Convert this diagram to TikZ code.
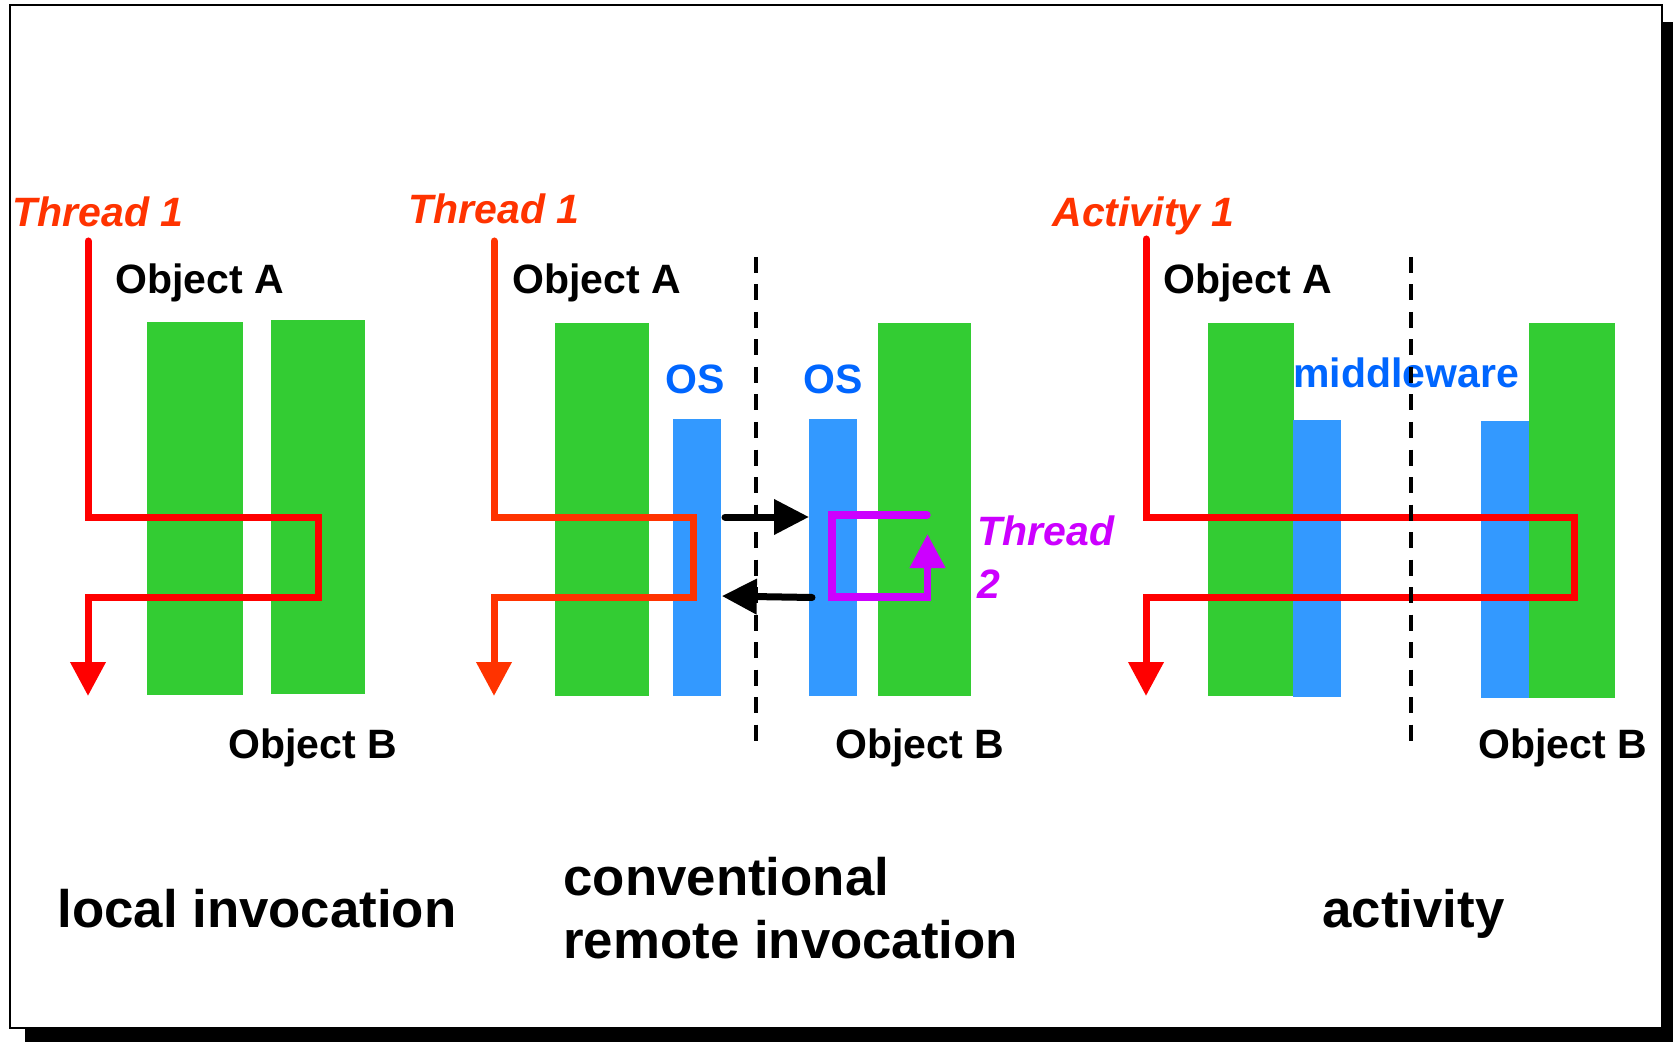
\documentclass[tikz,border=0pt]{standalone}
\usepackage{fontspec}
\setmainfont{Liberation Sans}
\usepackage{xcolor}
\usepackage{tikz}
\usetikzlibrary{arrows.meta,positioning}

\definecolor{objgreen}{RGB}{51,204,51}
\definecolor{osblue}{RGB}{51,153,255}
\definecolor{labelblue}{RGB}{0,102,255}
\definecolor{threadred}{RGB}{255,0,0}
\definecolor{threadorange}{RGB}{255,51,0}
\definecolor{threadpurple}{RGB}{204,0,255}

\begin{document}
\begin{tikzpicture}[
    x=0.5pt, y=-0.5pt,
    objbox/.style={rectangle, fill=objgreen, inner sep=0pt, anchor=north west},
    osbox/.style={rectangle, fill=osblue, inner sep=0pt, anchor=north west, minimum width=24pt, minimum height=138.5pt},
    lbl/.style={inner sep=0pt, anchor=base west, font=\fontsize{20.5}{24}\selectfont\bfseries},
    threadlbl/.style={lbl, font=\fontsize{20.5}{26.5}\selectfont\bfseries\itshape, text=threadorange},
    oslbl/.style={lbl, text=labelblue},
    caption/.style={lbl, font=\fontsize{26.4}{31.5}\selectfont\bfseries, align=left},
    threadline/.style={line width=3.5pt, line cap=round, -{Triangle[length=17pt, width=17pt]}},
    msgarrow/.style={line width=3.5pt, line cap=round, -{Triangle[length=17.5pt, width=17pt]}},
    divider/.style={line width=1.65pt, dash pattern=on 8pt off 5.75pt}
]
    \useasboundingbox (0,0) rectangle (1673,1042);
    \fill[black] (25,22) rectangle (1673,1042);
    \draw[fill=white, line width=1.2pt] (10,5) rectangle (1662,1028);

    % local invocation
    \node (objA1) [objbox, minimum width=48pt, minimum height=186.5pt] at (147,322) {};
    \node (objB1) [objbox, minimum width=47pt, minimum height=187pt] at (271,320) {};
    \node (thr1) [threadlbl] at (12,226.5) {Thread 1};
    \node (nameA1) [lbl] at (115,293.5) {Object A};
    \node (nameB1) [lbl] at (228,758) {Object B};
    \node (cap1) [caption] at (57,927) {local invocation};
    \draw [threadline, threadred] (88,241) -- (88,517) -- (318,517) -- (318,597) -- (88,597) -- (88,696);

    % conventional remote invocation
    \node (objA2) [objbox, minimum width=47pt, minimum height=186.5pt] at (555,323) {};
    \node (osA2) [osbox] at (673,419) {};
    \node (osB2) [osbox] at (809,419) {};
    \node (objB2) [objbox, minimum width=46.5pt, minimum height=186.5pt] at (878,323) {};
    \node (thr2a) [threadlbl] at (408,224) {Thread 1};
    \node (nameA2) [lbl] at (512,293.5) {Object A};
    \node (nameB2) [lbl] at (835,758) {Object B};
    \node (osnameA) [oslbl] at (665,393.5) {OS};
    \node (osnameB) [oslbl] at (803,393.5) {OS};
    \node (thr2b) [threadlbl, text=threadpurple, align=left] at (977,598) {Thread\\2};
    \node (cap2) [caption] at (563,958) {conventional\\remote invocation};
    \draw [threadline, threadorange] (494,241) -- (494,517) -- (693,517) -- (693,597) -- (494,597) -- (494,696);
    \coordinate (callsend) at (725,517);
    \coordinate (replysend) at (812,597.5);
    \draw [msgarrow] (callsend) -- (osB2.west |- callsend);
    \draw [msgarrow] (replysend) -- ([yshift=0.75pt]osA2.east |- replysend);
    \draw [line width=3.65pt, line cap=round, threadpurple, -{Triangle[length=17pt, width=17pt]}] (927,515) -- (832,515) -- (832,597) -- (927.5,597) -- (927.5,534);
    \draw [divider] (756,257) -- (756,750);

    % activity
    \node (objA3) [objbox, minimum width=43pt, minimum height=186.5pt] at (1207.5,323) {};
    \node (mwA) [osbox] at (1293,420) {};
    \node (mwB) [osbox] at (1481,421) {};
    \node (objB3) [objbox, minimum width=43pt, minimum height=187.5pt] at (1528.5,323) {};
    \node (thr3) [threadlbl] at (1052,227) {Activity 1};
    \node (nameA3) [lbl] at (1163,293.5) {Object A};
    \node (nameB3) [lbl] at (1478,758) {Object B};
    \node (mwname) [oslbl] at (1293,388) {middleware};
    \node (cap3) [caption] at (1322,927) {activity};
    \draw [threadline, threadred] (1146,239) -- (1146,517) -- (1574,517) -- (1574,597) -- (1146,597) -- (1146,696);
    \draw [divider] (1411,257) -- (1411,750);
\end{tikzpicture}
\end{document}
